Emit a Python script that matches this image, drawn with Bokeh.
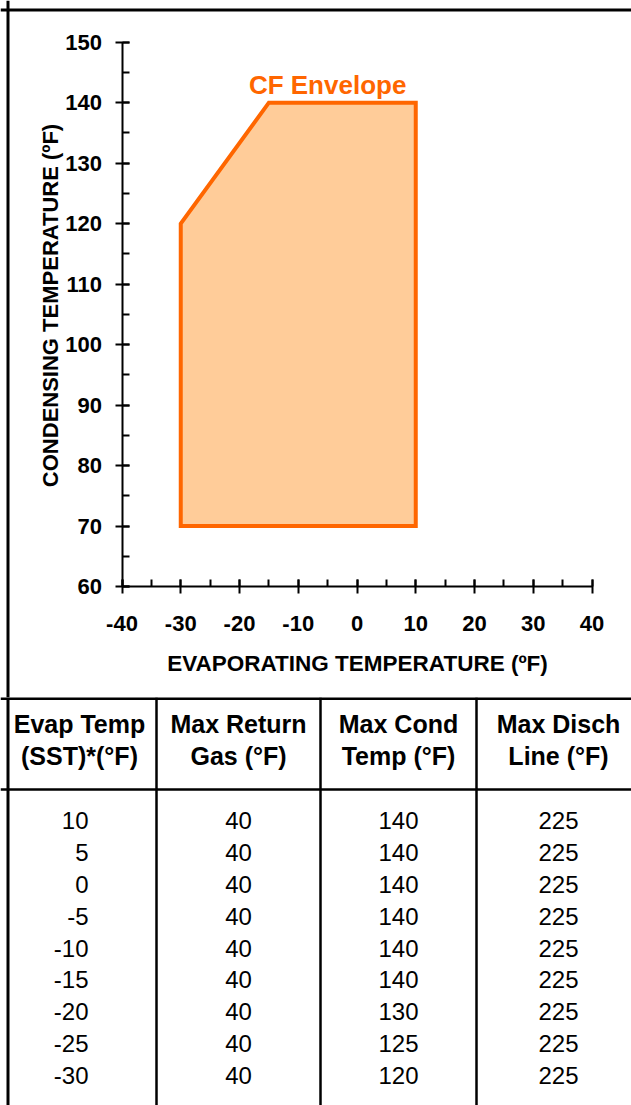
import math
from bokeh.plotting import figure
from bokeh.models import (Range1d, LinearAxis, SingleIntervalTicker, Span, ColumnDataSource,
                          CustomJSTickFormatter)
from bokeh.layouts import column
from bokeh.core.properties import value
from bokeh.embed import file_html
from bokeh.resources import INLINE

# ---------------- data ----------------
envelope_evap = [-30, -30, -15, 10, 10]
envelope_cond = [70, 120, 140, 140, 70]
envelope_label = "CF Envelope"

evap_temp = [10, 5, 0, -5, -10, -15, -20, -25, -30]
max_return_gas = [40, 40, 40, 40, 40, 40, 40, 40, 40]
max_cond_temp = [140, 140, 140, 140, 140, 140, 130, 125, 120]
max_disch_line = [225, 225, 225, 225, 225, 225, 225, 225, 225]

header_line1 = ["Evap Temp", "Max Return", "Max Cond", "Max Disch"]
header_line2 = ["(SST)*(°F)", "Gas (°F)", "Temp (°F)", "Line (°F)"]

x_axis_title = "EVAPORATING TEMPERATURE (ºF)"
y_axis_title = "CONDENSING TEMPERATURE (ºF)"
x_min, x_max = -40, 40
y_min, y_max = 60, 150

# ---------------- layout constants ----------------
W = 631
H1 = 697
H2 = 408
FONT = "Liberation Sans"
ORANGE = "#FF6600"
PEACH = "#FFCC99"

PX_X = 5.875      # px per degree (x)
PX_Y = 6.048      # px per degree (y)
X_AXIS_PX = 121.5 # canvas x of x_min
Y_TOP_PX = 41.7   # canvas y of y_max

XS = x_min - X_AXIS_PX / PX_X
XE = XS + W / PX_X
YE = y_max + Y_TOP_PX / PX_Y
YS = YE - H1 / PX_Y

# y title placement (canvas px)
Y_TITLE_PX = (50, 305)

# ---------------- chart ----------------
p = figure(width=W, height=H1, x_range=Range1d(XS, XE), y_range=Range1d(YS, YE),
           x_axis_location=None, y_axis_location=None, toolbar_location=None,
           output_backend="svg", min_border=0, outline_line_color=None,
           background_fill_color="white", border_fill_color="white")
p.grid.visible = False

p.patch(envelope_evap, envelope_cond, fill_color=PEACH, line_color=ORANGE,
        line_width=4, line_join="miter")

top_x = envelope_evap[2:4]
p.text(x=[sum(top_x) / 2 - 2.5], y=[max(envelope_cond) + 3.0], text=[envelope_label],
       text_align="center", text_baseline="middle", text_font=value(FONT),
       text_font_style="bold", text_font_size="26px", text_color=ORANGE)

fmt = CustomJSTickFormatter(code="return tick.toString();")


def style_axis(ax):
    ax.formatter = fmt
    ax.axis_line_width = 2
    ax.axis_line_color = "black"
    ax.major_tick_line_width = 2
    ax.minor_tick_line_width = 2
    ax.major_tick_in = 7
    ax.major_tick_out = 7
    ax.minor_tick_in = 7
    ax.minor_tick_out = 0
    ax.major_label_text_font = FONT
    ax.major_label_text_font_style = "bold"
    ax.major_label_text_font_size = "22px"
    ax.major_label_text_color = "black"
    ax.axis_label_text_font = FONT
    ax.axis_label_text_font_style = "bold"
    ax.axis_label_text_font_size = "22.5px"
    ax.axis_label_text_color = "black"


xaxis = LinearAxis(fixed_location=y_min, bounds=(x_min, x_max),
                   ticker=SingleIntervalTicker(interval=10, num_minor_ticks=2),
                   axis_label=x_axis_title)
style_axis(xaxis)
xaxis.major_label_standoff = 22
xaxis.axis_label_standoff = 17
p.add_layout(xaxis, "below")

yaxis = LinearAxis(fixed_location=x_min, bounds=(y_min, y_max),
                   ticker=SingleIntervalTicker(interval=10, num_minor_ticks=2))
style_axis(yaxis)
yaxis.major_label_standoff = 13
p.add_layout(yaxis, "left")

# y axis title as rotated text
p.text(x=[XS + Y_TITLE_PX[0] / PX_X], y=[YE - Y_TITLE_PX[1] / PX_Y], text=[y_axis_title],
       angle=math.pi / 2, text_align="center", text_baseline="middle",
       text_font=value(FONT), text_font_style="bold", text_font_size="22px",
       text_color="black")

# outer border (left, top)
p.add_layout(Span(location=XS + 7.5 / PX_X, dimension="height", line_color="black", line_width=3))
p.add_layout(Span(location=YE - 9.5 / PX_Y, dimension="width", line_color="black", line_width=3))

# ---------------- table ----------------
t = figure(width=W, height=H2, x_range=Range1d(0, W), y_range=Range1d(H2, 0),
           x_axis_location=None, y_axis_location=None, toolbar_location=None,
           output_backend="svg", min_border=0, outline_line_color=None,
           background_fill_color="white", border_fill_color="white")
t.grid.visible = False

col_edges = [7.5, 156, 320, 476]
col_centers = [79, 238, 398, 558]
col1_right = 88
header_y = [26, 58]
header_rule = 92
row0 = 123
row_h = 31.875

t.add_layout(Span(location=1, dimension="width", line_color="black", line_width=3))
t.add_layout(Span(location=header_rule, dimension="width", line_color="black", line_width=2.5))
for ex in col_edges:
    t.add_layout(Span(location=ex, dimension="height", line_color="black",
                      line_width=3 if ex == col_edges[0] else 2.5))

hdr = ColumnDataSource(dict(
    x=col_centers * 2,
    y=[header_y[0]] * 4 + [header_y[1]] * 4,
    text=header_line1 + header_line2))
t.text(x="x", y="y", text="text", source=hdr, text_align="center", text_baseline="middle",
       text_font=value(FONT), text_font_style="bold", text_font_size="25px", text_color="black")

n = len(evap_temp)
row_y = [row0 + i * row_h for i in range(n)]
cols = [evap_temp, max_return_gas, max_cond_temp, max_disch_line]
for ci, vals in enumerate(cols):
    src = ColumnDataSource(dict(
        x=[col1_right if ci == 0 else col_centers[ci]] * n,
        y=row_y,
        text=[str(v) for v in vals]))
    t.text(x="x", y="y", text="text", source=src,
           text_align="right" if ci == 0 else "center", text_baseline="middle",
           text_font=value(FONT), text_font_size="24px", text_color="black")

layout = column(p, t, spacing=0)
open("out.html", "w").write(file_html(layout, INLINE))
